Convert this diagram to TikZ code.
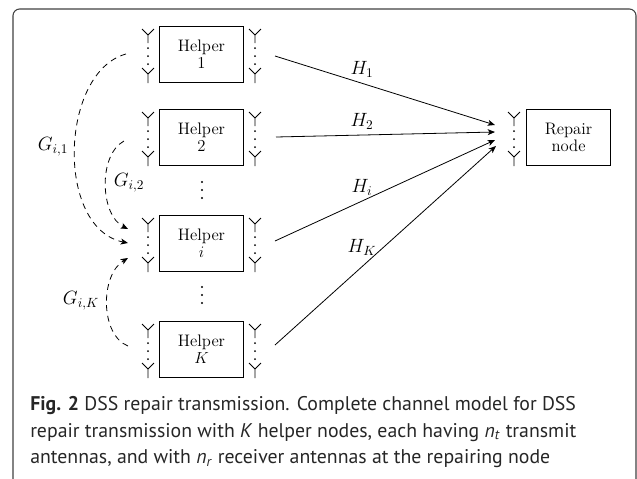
\documentclass[tikz,border=0pt]{standalone}
\usepackage{amsmath}
\usepackage{fontspec}
\usetikzlibrary{arrows,arrows.meta,positioning,calc}
\newfontfamily\capfont{PT Sans}

\tikzset{
    nodebox/.style={draw, line width=0.8pt, minimum width=63pt, minimum height=42pt, inner sep=0pt, anchor=north west, align=center, font=\fontsize{12.5}{12.5}\selectfont},
    antline/.style={line width=0.6pt},
    chanline/.style={-{Stealth[length=5.5pt,width=4.5pt,inset=1.5pt]}, line width=0.6pt},
    gainline/.style={-{Stealth[length=5.5pt,width=4.5pt,inset=1.5pt]}, dash pattern=on 4.5pt off 3.5pt, line width=0.6pt},
    chanlabel/.style={font=\fontsize{14.4}{16}\selectfont},
    dotmark/.style={fill=black, inner sep=0pt, minimum size=1.8pt, circle},
}

% One antenna column, x and top of the box
\newcommand{\antennas}[2]{
    \draw[antline] (#1-6,#2+3) -- (#1,#2+9) -- (#1+6,#2+3) (#1,#2+9) -- (#1,#2+17);
    \draw[antline] (#1-6,#2+42) -- (#1,#2+48) -- (#1+6,#2+42) (#1,#2+48) -- (#1,#2+57);
    \foreach \d in {22,30,38} {
        \fill (#1,#2+\d) circle (0.75pt);
    }
}

\begin{document}
\begin{tikzpicture}[x=0.75pt, y=-0.75pt]
    \useasboundingbox (0,0) rectangle (637,479);

    % Frame
    \draw[line width=0.8pt, black!75, rounded corners=5pt] (13,479) -- (13,9) -- (636,9) -- (636,479);

    % Helpers
    \foreach \y/\name/\lab in {26/1/1, 109/2/2, 215/i/$i$, 321/K/$K$} {
        \node[nodebox] (helper\name) at (159,\y) {Helper\\\lab};
        \antennas{148}{\y}
        \antennas{255}{\y}
    }

    % Repair node
    \node[nodebox] (repair) at (526,109) {Repair\\node};
    \antennas{514}{109}

    % Vertical dots between helpers
    \foreach \y in {182,190,198,287,295,303} {
        \node[dotmark] at (202,\y) {};
    }

    % Channel ends
    \coordinate (tx1) at (275,56);
    \coordinate (tx2) at (276,137);
    \coordinate (txi) at (275,241);
    \coordinate (txK) at (275,345);
    \coordinate (rx1) at (495,125);
    \coordinate (rx2) at (495,132);
    \coordinate (rxi) at (495,140);
    \coordinate (rxK) at (496,146);

    \draw[chanline] (tx1) -- (rx1);
    \draw[chanline] (tx2) -- (rx2);
    \draw[chanline] (txi) -- (rxi);
    \draw[chanline] (txK) -- (rxK);

    \node[chanlabel] (h1) at (362,69) {$H_1$};
    \node[chanlabel] (h2) at (362,121) {$H_2$};
    \node[chanlabel] (hi) at (362,187) {$H_i$};
    \node[chanlabel] (hK) at (362,247) {$H_K$};

    % Interference
    \coordinate (g1s) at (126,54);
    \coordinate (g1e) at (128,243);
    \coordinate (g2s) at (124,141);
    \coordinate (g2e) at (128,229);
    \coordinate (gKs) at (128,346);
    \coordinate (gKe) at (128,258);

    \draw[gainline] (g1s) .. controls (60,72) and (55,228) .. (g1e);
    \draw[gainline] (g2s) .. controls (98,155) and (100,215) .. (g2e);
    \draw[gainline] (gKs) .. controls (100,335) and (100,275) .. (gKe);

    \node[chanlabel] (g1) at (53,147) {$G_{i,1}$};
    \node[chanlabel] (g2) at (129,183) {$G_{i,2}$};
    \node[chanlabel] (gK) at (81,301) {$G_{i,K}$};

    % Caption
    \node[anchor=north west, inner sep=0pt, align=left, font=\capfont\fontsize{14.85}{20}\selectfont, black!85] (caption) at (30,396)
        {\textbf{Fig. 2} DSS repair transmission. Complete channel model for DSS\\
         repair transmission with \textit{K} helper nodes, each having \textit{n}\textsubscript{\textit{t}} transmit\\
         antennas, and with \textit{n}\textsubscript{\textit{r}} receiver antennas at the repairing node};
\end{tikzpicture}
\end{document}
